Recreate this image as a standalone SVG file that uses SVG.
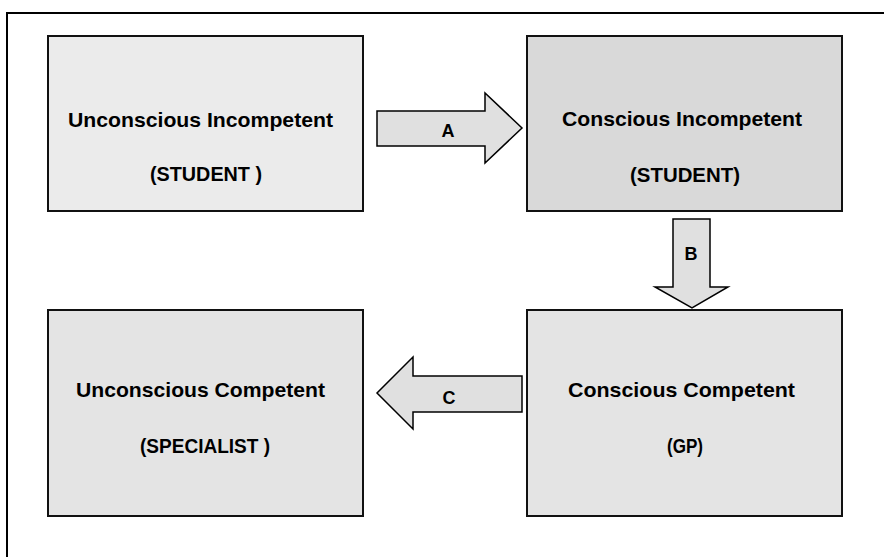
<svg xmlns="http://www.w3.org/2000/svg" width="884" height="557" viewBox="0 0 884 557">
<style>
.box{stroke:#111;stroke-width:2}
.arr{fill:#e0e0e0;stroke:#000;stroke-width:1.5;stroke-linejoin:miter}
.t{font-family:"Liberation Sans",Arial,sans-serif;font-weight:bold;font-size:21px;fill:#000}
.l{font-family:"Liberation Sans",Arial,sans-serif;font-weight:bold;font-size:18px;fill:#000;text-anchor:middle}
</style>
<rect width="884" height="557" fill="#fff"/>
<g id="frame"><path d="M7,557 V13 H884" fill="none" stroke="#000" stroke-width="2"/></g>
<g id="n1">
<rect class="box" x="48" y="36" width="315" height="175" fill="#ebebeb"/>
<text class="t" x="68" y="127" textLength="265" lengthAdjust="spacingAndGlyphs">Unconscious  Incompetent</text>
<text class="t" x="150" y="181" textLength="112" lengthAdjust="spacingAndGlyphs">(STUDENT )</text>
</g>
<g id="n2">
<rect class="box" x="527" y="36" width="315" height="175" fill="#d9d9d9"/>
<text class="t" x="562" y="126" textLength="240" lengthAdjust="spacingAndGlyphs">Conscious  Incompetent</text>
<text class="t" x="630" y="182" textLength="110" lengthAdjust="spacingAndGlyphs">(STUDENT)</text>
</g>
<g id="n3">
<rect class="box" x="48" y="310" width="315" height="206" fill="#e4e4e4"/>
<text class="t" x="76" y="397" textLength="249" lengthAdjust="spacingAndGlyphs">Unconscious  Competent</text>
<text class="t" x="140" y="453" textLength="130" lengthAdjust="spacingAndGlyphs">(SPECIALIST )</text>
</g>
<g id="n4">
<rect class="box" x="527" y="310" width="315" height="206" fill="#e4e4e4"/>
<text class="t" x="568" y="397" textLength="227" lengthAdjust="spacingAndGlyphs">Conscious  Competent</text>
<text class="t" x="667" y="453" textLength="36" lengthAdjust="spacingAndGlyphs">(GP)</text>
</g>
<g id="connectors">
<g id="eA">
<polygon class="arr" points="377,111 485,111 485,93 522,128 485,163 485,146 377,146"/>
<text class="l" x="448" y="137">A</text>
</g>
<g id="eB">
<polygon class="arr" points="673,219 710,219 710,287 728,287 692,308 655,287 673,287"/>
<text class="l" x="691" y="260">B</text>
</g>
<g id="eC">
<polygon class="arr" points="522,376 413,376 413,357 377,393 413,429 413,412 522,412"/>
<text class="l" x="449" y="404">C</text>
</g>
</g>
</svg>
